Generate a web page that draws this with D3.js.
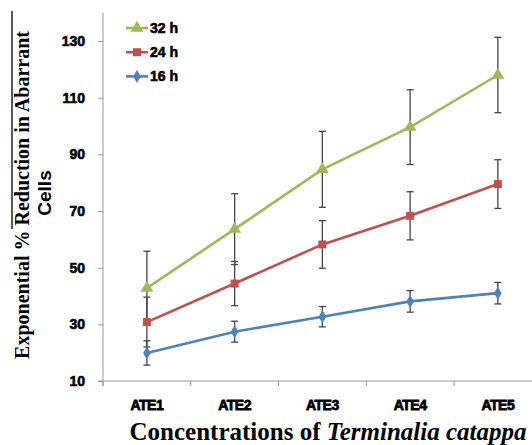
<!DOCTYPE html>
<html>
<head>
<meta charset="utf-8">
<script src="https://cdn.jsdelivr.net/npm/d3@7"></script>
<style>
  body { margin: 0; background: #fff; }
  svg { display: block; }
</style>
</head>
<body>
<div id="chart"></div>
<script>
const categories = ["ATE1", "ATE2", "ATE3", "ATE4", "ATE5"];
const seriesNames = ["32 h", "24 h", "16 h"];
const values32 = [42.8, 63.6, 84.7, 99.6, 118.0];
const errors32 = [13.0, 12.5, 13.4, 13.2, 13.3];
const values24 = [30.8, 44.4, 58.2, 68.3, 79.5];
const errors24 = [8.8, 7.8, 8.4, 8.5, 8.6];
const values16 = [19.9, 27.4, 32.7, 38.1, 41.0];
const errors16 = [4.3, 3.7, 3.6, 3.8, 3.8];
const yTicks = [10, 30, 50, 70, 90, 110, 130];

const w = 532, h = 445;
const left = 103, bottom = 381, step = 87.75;

const series = [
    {name: seriesNames[0], values: values32, errors: errors32, color: "#9bbb59", shape: d3.symbolTriangle, size: 70},
    {name: seriesNames[1], values: values24, errors: errors24, color: "#c0504d", shape: d3.symbolSquare, size: 64},
    {name: seriesNames[2], values: values16, errors: errors16, color: "#4f81bd", shape: d3.symbolDiamond, size: 50}
];

const svg = d3.select("#chart")
    .append("svg")
    .attr("width", w)
    .attr("height", h)
    .style("background-color", "#fff");

let x = d3.scaleBand()
    .domain(categories)
    .range([left, left + step * categories.length]);

let y = d3.scaleLinear()
    .domain([10, 140])
    .range([bottom, bottom - 130 * (340 / 120)]);

// axes
let xAxis = d3.axisBottom(x).tickSize(0).tickFormat("");
let xg = svg.append("g")
    .attr("transform", "translate(0," + bottom + ")")
    .call(xAxis);
xg.select(".domain").attr("stroke", "#999").attr("d", "M" + (left - 4) + ",0H" + w);
xg.selectAll(".bound")
    .data(d3.range(categories.length + 1))
    .enter()
    .append("line")
    .attr("x1", i => left + i * step)
    .attr("x2", i => left + i * step)
    .attr("y1", 0)
    .attr("y2", 5)
    .attr("stroke", "#999");

svg.selectAll(".xlab")
    .data(categories)
    .enter()
    .append("text")
    .attr("x", d => x(d) + x.bandwidth() / 2)
    .attr("y", 410)
    .attr("text-anchor", "middle")
    .style("font-family", "'Liberation Sans', Arial, sans-serif")
    .style("font-weight", "bold")
    .style("font-size", "14px")
    .style("letter-spacing", "-0.5px")
    .style("stroke", "#000")
    .style("stroke-width", "0.8px")
    .text(d => d);

let yAxis = d3.axisLeft(y).tickValues(yTicks).tickSize(5).tickPadding(13);
let yg = svg.append("g")
    .attr("transform", "translate(" + left + ",0)")
    .call(yAxis);
yg.select(".domain").attr("stroke", "#999").attr("d", "M0," + y(140) + "V" + (bottom + 5));
yg.selectAll(".tick line").attr("stroke", "#999");
yg.selectAll(".tick text")
    .style("font-family", "'Liberation Sans', Arial, sans-serif")
    .style("font-weight", "bold")
    .style("font-size", "14px")
    .style("fill", "#000")
    .style("stroke", "#000")
    .style("stroke-width", "0.6px");

// error bars
series.forEach(s => {
    let g = svg.append("g");
    categories.forEach((c, i) => {
        let cx = x(c) + x.bandwidth() / 2;
        let top = y(s.values[i] + s.errors[i]);
        let bot = y(s.values[i] - s.errors[i]);
        g.append("line").attr("x1", cx).attr("x2", cx).attr("y1", top).attr("y2", bot)
            .attr("stroke", "#444").attr("stroke-width", 1.3);
        [top, bot].forEach(yy => {
            g.append("line").attr("x1", cx - 3.5).attr("x2", cx + 3.5).attr("y1", yy).attr("y2", yy)
                .attr("stroke", "#444").attr("stroke-width", 1.3);
        });
    });
});

// lines and markers
let line = d3.line()
    .x((d, i) => x(categories[i]) + x.bandwidth() / 2)
    .y(d => y(d));

series.forEach(s => {
    svg.append("path")
        .datum(s.values)
        .attr("fill", "none")
        .attr("stroke", s.color)
        .attr("stroke-width", 2.6)
        .attr("d", line);
    svg.selectAll(null)
        .data(s.values)
        .enter()
        .append("path")
        .attr("d", d3.symbol().type(s.shape).size(s.size))
        .attr("transform", (d, i) => "translate(" + (x(categories[i]) + x.bandwidth() / 2) + "," + y(d) + ")")
        .attr("fill", s.color);
});

// legend
let legend = svg.append("g");
series.forEach((s, i) => {
    let ly = 28 + i * 24.2;
    legend.append("line").attr("x1", 126).attr("x2", 148).attr("y1", ly).attr("y2", ly)
        .attr("stroke", s.color).attr("stroke-width", 2.6);
    legend.append("path")
        .attr("d", d3.symbol().type(s.shape).size(s.size))
        .attr("transform", "translate(137," + ly + ")")
        .attr("fill", s.color);
    legend.append("text")
        .attr("x", 150)
        .attr("y", ly + 5)
        .style("font-family", "'Liberation Sans', Arial, sans-serif")
        .style("font-weight", "bold")
        .style("font-size", "14px")
        .style("stroke", "#000")
        .style("stroke-width", "0.6px")
        .text(s.name);
});

// axis titles
svg.append("text")
    .attr("transform", "translate(29,195) rotate(-90)")
    .attr("text-anchor", "middle")
    .style("font-family", "'Liberation Serif', 'Times New Roman', serif")
    .style("font-weight", "bold")
    .style("font-size", "20px")
    .text("Exponential % Reduction in Abarrant");

svg.append("line")
    .attr("x1", 12).attr("x2", 12)
    .attr("y1", 11).attr("y2", 229)
    .attr("stroke", "#000").attr("stroke-width", 1.3);

svg.append("text")
    .attr("transform", "translate(51,193) rotate(-90)")
    .attr("text-anchor", "middle")
    .style("font-family", "'Liberation Sans', Arial, sans-serif")
    .style("font-weight", "bold")
    .style("font-size", "19px")
    .text("Cells");

let xt = svg.append("text")
    .attr("x", 328)
    .attr("y", 440)
    .attr("text-anchor", "middle")
    .style("font-family", "'Liberation Serif', 'Times New Roman', serif")
    .style("font-weight", "bold")
    .style("font-size", "25px");
xt.append("tspan").text("Concentrations of ");
xt.append("tspan").style("font-style", "italic").text("Terminalia catappa");
</script>
</body>
</html>
